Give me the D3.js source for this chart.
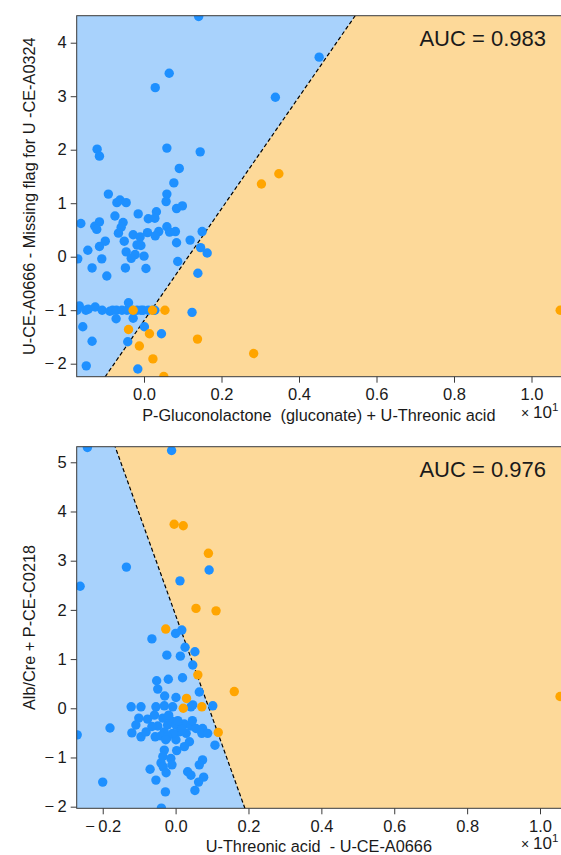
<!doctype html>
<head>
  <meta charset="utf-8" />
  <title>Decision boundaries</title>
  <script src="https://cdn.jsdelivr.net/npm/d3@7"></script>
  <style>
    body { margin: 0; background: #fff; }
    text { font-family: "Liberation Sans", Arial, sans-serif; fill: #1a1a1a; white-space: pre; }
  </style>
</head>
<body>
  <svg id="chart"></svg>
  <script>
    // top panel
    var topXTicks = [0, 0.2, 0.4, 0.6, 0.8, 1.0],
      topYTicks = [-2, -1, 0, 1, 2, 3, 4],
      topXLabel = "P-Gluconolactone  (gluconate) + U-Threonic acid",
      topYLabel = "U-CE-A0666 - Missing flag for U -CE-A0324",
      topAuc = "AUC = 0.983",
      topBoundary = [[-0.0999, -2.24], [0.5445, 4.5]];

    var topBlue = [
      [0.141, 4.49], [0.065, 3.43], [0.029, 3.16], [0.339, 2.98], [0.452, 3.73],
      [-0.121, 2.01], [-0.115, 1.88], [0.059, 2.03], [0.145, 1.96], [0.091, 1.65], [0.077, 1.38],
      [-0.092, 1.17], [0.059, 1.17], [0.057, 1.03], [-0.070, 1.01], [-0.062, 1.06], [-0.046, 1.01],
      [0.084, 0.90], [0.099, 0.95], [-0.015, 0.80], [0.032, 0.84], [0.011, 0.71], [0.028, 0.72],
      [-0.075, 0.76], [-0.054, 0.64], [-0.163, 0.62], [-0.115, 0.65], [-0.127, 0.57], [-0.122, 0.51],
      [-0.059, 0.55], [-0.066, 0.44], [0.059, 0.56], [0.066, 0.46], [0.081, 0.47], [0.009, 0.45],
      [0.038, 0.47], [0.029, 0.39], [-0.028, 0.41], [-0.010, 0.37], [-0.051, 0.29], [-0.100, 0.29],
      [-0.115, 0.19], [-0.018, 0.22], [-0.008, 0.21], [0.084, 0.26], [0.119, 0.31], [0.150, 0.47],
      [-0.145, 0.12], [-0.046, 0.09], [-0.023, 0.04], [-0.033, -0.03], [0.000, 0.01], [-0.109, -0.04],
      [-0.171, -0.04], [0.146, 0.17], [0.163, 0.07], [0.087, -0.09], [-0.134, -0.21], [-0.048, -0.21],
      [0.005, -0.22], [-0.096, -0.36], [0.139, -0.31],
      [-0.173, -1.0], [-0.167, -0.92], [-0.150, -1.0], [-0.144, -0.98], [-0.126, -0.94], [-0.108, -1.0],
      [-0.088, -1.02], [-0.081, -1.0], [-0.071, -1.0], [-0.057, -1.0], [-0.044, -1.0], [-0.031, -1.0],
      [-0.018, -1.0], [-0.008, -1.0], [-0.002, -1.0], [0.011, -1.0], [0.024, -1.0], [0.028, -1.0],
      [-0.040, -0.86], [-0.072, -1.16], [-0.028, -1.15], [0.124, -1.04],
      [-0.158, -1.31], [0.001, -1.31], [0.045, -1.44], [-0.134, -1.58], [-0.042, -1.59],
      [-0.149, -2.04], [-0.016, -2.10]
    ];

    var topOrange = [
      [0.303, 1.36], [0.348, 1.55], [-0.028, -1.0], [0.022, -1.0], [0.054, -1.0], [-0.040, -1.36],
      [0.014, -1.44], [0.138, -1.54], [-0.012, -1.67], [0.283, -1.81], [0.023, -1.91], [0.051, -2.24],
      [1.074, -1.0]
    ];

    // bottom panel
    var botXTicks = [-0.2, 0, 0.2, 0.4, 0.6, 0.8, 1.0],
      botYTicks = [-2, -1, 0, 1, 2, 3, 4, 5],
      botXLabel = "U-Threonic acid  - U-CE-A0666",
      botYLabel = "Alb/Cre + P-CE-C0218",
      botAuc = "AUC = 0.976",
      botBoundary = [[0.190, -2.03], [-0.166, 5.32]];

    var botBlue = [
      [-0.242, 5.30], [-0.011, 5.24], [0.092, 2.81], [-0.135, 2.87], [-0.262, 2.48], [0.012, 2.59],
      [0.000, 1.52], [0.017, 1.59], [-0.065, 1.41], [0.026, 1.24], [0.053, 1.15],
      [-0.024, 1.08], [0.013, 1.06], [0.047, 0.88], [-0.052, 0.56], [-0.049, 0.39], [-0.020, 0.59], [0.019, 0.62],
      [-0.030, 0.25], [0.001, 0.22], [0.065, 0.33],
      [-0.122, 0.03], [-0.095, 0.03], [-0.054, 0.03], [-0.031, 0.05], [-0.008, 0.03], [0.047, 0.07], [0.042, 0.03], [0.102, 0.05],
      [-0.270, -0.54], [-0.180, -0.40], [-0.200, -1.50], [0.108, -0.75], [-0.039, -2.03],
      [-0.101, -0.20], [-0.077, -0.22], [-0.058, -0.14], [-0.109, -0.34], [-0.120, -0.50], [-0.095, -0.58],
      [-0.081, -0.48], [-0.056, -0.58], [-0.049, -0.36], [-0.035, -0.20], [-0.022, -0.34], [-0.031, -0.48],
      [-0.013, -0.25], [0.001, -0.34], [0.010, -0.48], [0.024, -0.32], [0.042, -0.36], [0.029, -0.51],
      [0.001, -0.64], [0.038, -0.68], [0.074, -0.41], [0.072, -0.51], [0.088, -0.51], [0.024, -0.78],
      [0.003, -0.86], [-0.031, -0.85], [-0.035, -0.98], [-0.013, -1.02], [-0.040, -1.11], [-0.034, -1.19],
      [-0.010, -1.15], [-0.026, -1.31], [-0.070, -1.24], [-0.054, -1.46], [-0.028, -1.70], [0.033, -1.29],
      [0.042, -1.36], [0.074, -1.05], [0.065, -1.15], [0.077, -1.40], [0.063, -1.50], [0.053, -1.67],
      [-0.065, -0.37], [-0.008, -0.51], [0.018, -0.43], [-0.040, -0.56], [-0.022, -0.58], [-0.019, -0.14],
      [0.006, -0.25], [0.056, -0.41], [0.046, -0.25], [-0.027, -0.64]
    ];

    var botOrange = [
      [-0.004, 3.74], [0.021, 3.71], [0.090, 3.15], [0.056, 2.03], [0.111, 1.98], [-0.027, 1.61],
      [0.061, 0.68], [0.030, 0.20], [0.161, 0.34], [0.021, 0.0], [0.072, 0.03], [0.117, -0.49],
      [1.055, 0.24]
    ];

    var width = 561,
      height = 855,
      blueFill = "#a8d2fc",
      orangeFill = "#fdd999",
      blueDot = "#1e90ff",
      orangeDot = "#ffa500";

    var svg = d3.select("#chart").attr("width", width).attr("height", height);

    function minus(d, s) {
      return d < 0 ? "\u2212\u2009" + s : s;
    }
    function fmtX(d) { return minus(d, d3.format(".1f")(Math.abs(d))); }
    function fmtY(d) { return minus(d, String(Math.abs(d))); }

    function panel(cfg) {
      var x = d3.scaleLinear().domain(cfg.xDomain).range([cfg.left, cfg.right]),
        y = d3.scaleLinear().domain(cfg.yDomain).range([cfg.bottom, cfg.top]);

      var g = svg.append("g");
      var clipId = "clip-" + cfg.id;
      g.append("clipPath").attr("id", clipId)
        .append("rect")
        .attr("x", cfg.left).attr("y", cfg.top)
        .attr("width", cfg.right - cfg.left).attr("height", cfg.bottom - cfg.top);

      var area = g.append("g").attr("clip-path", "url(#" + clipId + ")");

      // decision line extended to the plot limits
      var b = cfg.boundary,
        slope = (b[1][1] - b[0][1]) / (b[1][0] - b[0][0]),
        y0 = cfg.yDomain[0] - 1,
        y1 = cfg.yDomain[1] + 1,
        xAt = function(yy) { return b[0][0] + (yy - b[0][1]) / slope; };

      area.append("rect")
        .attr("x", cfg.left).attr("y", cfg.top)
        .attr("width", cfg.right - cfg.left).attr("height", cfg.bottom - cfg.top)
        .attr("fill", orangeFill);

      var xl = cfg.xDomain[0] - 1;
      area.append("path")
        .attr("d", d3.line()([[x(xl), y(y0)], [x(xAt(y0)), y(y0)], [x(xAt(y1)), y(y1)], [x(xl), y(y1)]]) + "Z")
        .attr("fill", blueFill);

      area.append("line")
        .attr("x1", x(xAt(y0))).attr("y1", y(y0))
        .attr("x2", x(xAt(y1))).attr("y2", y(y1))
        .attr("stroke", "#000")
        .attr("stroke-width", 1.2)
        .attr("stroke-dasharray", "4,2.5");

      area.selectAll(".blue").data(cfg.blue).enter()
        .append("circle")
        .attr("cx", function(d) { return x(d[0]); })
        .attr("cy", function(d) { return y(d[1]); })
        .attr("r", 4.7)
        .attr("fill", blueDot);

      area.selectAll(".orange").data(cfg.orange).enter()
        .append("circle")
        .attr("cx", function(d) { return x(d[0]); })
        .attr("cy", function(d) { return y(d[1]); })
        .attr("r", 4.7)
        .attr("fill", orangeDot);

      // frame
      g.append("rect")
        .attr("x", cfg.left).attr("y", cfg.top)
        .attr("width", cfg.right - cfg.left + 2).attr("height", cfg.bottom - cfg.top)
        .attr("fill", "none")
        .attr("stroke", "#3a3a3a")
        .attr("stroke-width", 1);

      var xAxis = g.append("g")
        .attr("transform", "translate(0," + cfg.bottom + ")")
        .call(d3.axisBottom(x).tickValues(cfg.xTicks).tickFormat(fmtX).tickSize(6).tickPadding(6));
      var yAxis = g.append("g")
        .attr("transform", "translate(" + cfg.left + ",0)")
        .call(d3.axisLeft(y).tickValues(cfg.yTicks).tickFormat(fmtY).tickSize(6).tickPadding(4));

      [xAxis, yAxis].forEach(function(a) {
        a.select(".domain").remove();
        a.selectAll(".tick line").attr("stroke", "#3a3a3a");
        a.selectAll(".tick text")
          .attr("font-size", 16.5)
          .attr("font-family", "'Liberation Sans', Arial, sans-serif")
          .attr("fill", "#1a1a1a");
      });

      g.append("text")
        .attr("x", (cfg.left + cfg.right) / 2)
        .attr("y", cfg.bottom + 44)
        .attr("text-anchor", "middle")
        .attr("font-size", 16.3)
        .text(cfg.xLabel);

      var off = g.append("text")
        .attr("x", 521)
        .attr("y", cfg.bottom + 41)
        .attr("font-size", 17);
      off.append("tspan").attr("font-size", 14).text("\u00d7 ");
      off.append("tspan").text("10");
      off.append("tspan").attr("dy", -7).attr("font-size", 11.5).text("1");

      g.append("text")
        .attr("transform", "translate(35," + ((cfg.top + cfg.bottom) / 2) + ") rotate(-90)")
        .attr("text-anchor", "middle")
        .attr("font-size", 16.3)
        .text(cfg.yLabel);

      g.append("text")
        .attr("x", 546)
        .attr("y", cfg.top + 30)
        .attr("text-anchor", "end")
        .attr("font-size", 22)
        .text(cfg.auc);
    }

    panel({
      id: "top", left: 76.7, right: 561, top: 15.7, bottom: 376.7,
      xDomain: [-0.1737, 1.0761], yDomain: [-2.243, 4.505],
      xTicks: topXTicks, yTicks: topYTicks, xLabel: topXLabel, yLabel: topYLabel,
      auc: topAuc, boundary: topBoundary, blue: topBlue, orange: topOrange
    });

    panel({
      id: "bot", left: 76.7, right: 561, top: 446.7, bottom: 808.3,
      xDomain: [-0.2714, 1.0576], yDomain: [-2.033, 5.317],
      xTicks: botXTicks, yTicks: botYTicks, xLabel: botXLabel, yLabel: botYLabel,
      auc: botAuc, boundary: botBoundary, blue: botBlue, orange: botOrange
    });
  </script>
</body>
